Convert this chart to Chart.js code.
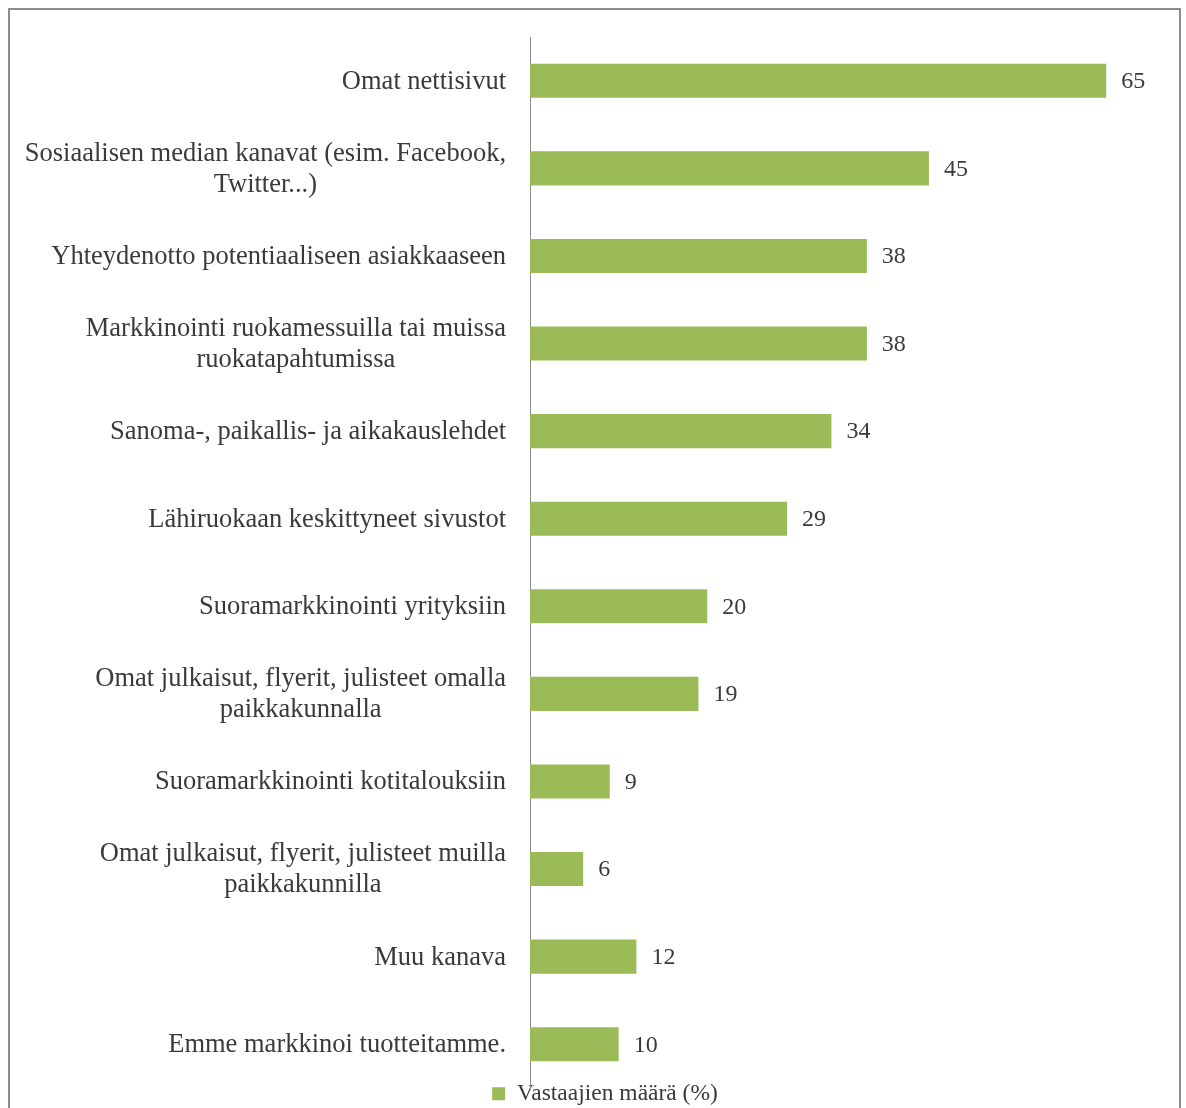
<!DOCTYPE html>
<html>
<head>
<meta charset="utf-8">
<script src="https://cdn.jsdelivr.net/npm/chart.js@4.4.1/dist/chart.umd.min.js"></script>
<style>
  html, body { margin: 0; padding: 0; background: #fff; overflow: hidden; }
  #frame { position: absolute; left: 8px; top: 8px; width: 1173px; height: 1140px; border: 2px solid #8c8c8c; box-sizing: border-box; }
  #wrap { position: absolute; left: 0; top: 0; width: 1186px; height: 1108px; }
</style>
</head>
<body>
<div id="frame"></div>
<div id="wrap"><canvas id="chart"></canvas></div>
<script>
// Marketing channels, one array of text lines per category
const categories = [
  ['Omat nettisivut'],
  ['Sosiaalisen median kanavat (esim. Facebook,', 'Twitter...)'],
  ['Yhteydenotto potentiaaliseen asiakkaaseen'],
  ['Markkinointi ruokamessuilla tai muissa', 'ruokatapahtumissa'],
  ['Sanoma-, paikallis- ja aikakauslehdet'],
  ['Lähiruokaan keskittyneet sivustot'],
  ['Suoramarkkinointi yrityksiin'],
  ['Omat julkaisut, flyerit, julisteet omalla', 'paikkakunnalla'],
  ['Suoramarkkinointi kotitalouksiin'],
  ['Omat julkaisut, flyerit, julisteet muilla', 'paikkakunnilla'],
  ['Muu kanava'],
  ['Emme markkinoi tuotteitamme.']
];
const values = [65, 45, 38, 38, 34, 29, 20, 19, 9, 6, 12, 10];
const seriesName = 'Vastaajien määrä (%)';

const GREEN = '#9bbb59';
const TEXT = '#3a3a3a';
const FONT_FAMILY = '"Liberation Serif", "DejaVu Serif", serif';
const PAD_LEFT = 24;

// category names (centred lines, right-aligned block) and value labels
const labelsPlugin = {
  id: 'labelsPlugin',
  afterLayout(chart) {
    // lift the legend row a little so it sits tight under the last bar
    chart.legend.top -= 6;
  },
  afterDatasetsDraw(chart) {
    const { ctx } = chart;
    const yScale = chart.scales.y;
    ctx.save();
    ctx.font = '26.5px ' + FONT_FAMILY;
    ctx.fillStyle = TEXT;
    ctx.textBaseline = 'middle';
    ctx.textAlign = 'center';
    categories.forEach((lines, i) => {
      const y = yScale.getPixelForValue(i) + 1;
      const w = Math.max(...lines.map(l => ctx.measureText(l).width));
      const cx = yScale.right - 24 - w / 2;
      lines.forEach((line, j) => {
        ctx.fillText(line, cx, y + (j - (lines.length - 1) / 2) * 31);
      });
    });
    ctx.font = '24px ' + FONT_FAMILY;
    ctx.textAlign = 'left';
    chart.getDatasetMeta(0).data.forEach((bar, i) => {
      ctx.fillText(String(values[i]), bar.x + 15, bar.y + 1);
    });
    ctx.restore();
  }
};

new Chart(document.getElementById('chart'), {
  type: 'bar',
  data: {
    labels: categories.map(c => c.join(' ')),
    datasets: [{
      label: seriesName,
      data: values,
      backgroundColor: GREEN,
      borderWidth: 0,
      categoryPercentage: 1,
      barPercentage: 0.39
    }]
  },
  options: {
    indexAxis: 'y',
    responsive: true,
    maintainAspectRatio: false,
    animation: false,
    layout: { padding: { left: PAD_LEFT, right: 0, top: 37, bottom: 0 } },
    plugins: {
      tooltip: { enabled: false },
      legend: {
        position: 'bottom',
        maxHeight: 20,
        labels: {
          boxWidth: 13,
          boxHeight: 13,
          padding: 0,
          color: TEXT,
          font: { family: FONT_FAMILY, size: 23.5 }
        }
      }
    },
    scales: {
      x: { display: false, min: 0, max: 74 },
      y: {
        grid: { display: false },
        border: { display: true, color: '#8c8c8c', width: 1 },
        ticks: { display: false },
        afterFit(scale) { scale.width = 530 - PAD_LEFT; }
      }
    }
  },
  plugins: [labelsPlugin]
});
</script>
</body>
</html>
